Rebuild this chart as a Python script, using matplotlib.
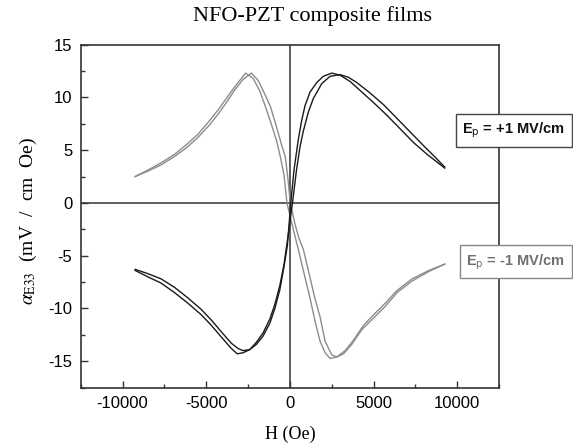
import matplotlib.pyplot as plt
from matplotlib.ticker import MultipleLocator

# Ep = +1 MV/cm (black), two field sweeps
blk_h1 = [-9250, -8500, -7700, -6900, -6100, -5300, -4700, -4000, -3500, -3100,
          -2800, -2400, -2000, -1600, -1200, -900, -600, -350, -150, 50,
          250, 500, 700, 900, 1200, 1600, 2000, 2500, 3000, 3600,
          4300, 5000, 5800, 6600, 7400, 8200, 9250]
blk_y1 = [-6.3, -6.7, -7.2, -8.0, -9.0, -10.1, -11.1, -12.4, -13.3, -13.8,
          -14.0, -13.9, -13.4, -12.6, -11.4, -10.0, -8.2, -6.0, -4.0, 0.0,
          3.2, 6.0, 7.8, 9.2, 10.5, 11.4, 12.0, 12.3, 12.1, 11.5,
          10.5, 9.5, 8.3, 7.0, 5.7, 4.6, 3.3]
blk_h2 = [-9250, -8500, -7700, -6900, -6100, -5300, -4700, -4000, -3500, -3150,
          -2800, -2400, -2000, -1600, -1200, -900, -600, -350, -100, 150,
          400, 600, 800, 1100, 1400, 1900, 2400, 3000, 3500, 4000,
          4800, 5600, 6400, 7200, 8000, 8700, 9250]
blk_y2 = [-6.4, -7.0, -7.6, -8.5, -9.5, -10.6, -11.6, -12.9, -13.8, -14.3,
          -14.2, -13.9, -13.2, -12.3, -11.0, -9.6, -7.8, -5.8, -3.0, 0.0,
          3.2, 5.3, 6.8, 8.6, 9.9, 11.3, 12.0, 12.15, 11.9, 11.4,
          10.4, 9.3, 8.0, 6.7, 5.4, 4.3, 3.4]

# Ep = -1 MV/cm (gray), two field sweeps
gry_h1 = [-9250, -8500, -7700, -6900, -6200, -5500, -4800, -4300, -3800, -3300,
          -2900, -2650, -2200, -1800, -1470, -1100, -800, -577, -350, -180,
          0, 200, 500, 800, 1000, 1210, 1500, 1800, 2100, 2400,
          2800, 3300, 3800, 4400, 5000, 5700, 6400, 7300, 8300, 9250]
gry_y1 = [2.5, 3.1, 3.8, 4.6, 5.5, 6.5, 7.8, 8.8, 9.9, 11.0,
          11.8, 12.3, 11.8, 10.6, 9.15, 7.4, 5.9, 4.4, 2.6, 0.0,
          -1.2, -2.5, -4.4, -6.4, -7.7, -9.1, -11.2, -13.1, -14.2, -14.75,
          -14.6, -14.0, -13.0, -11.6, -10.6, -9.5, -8.3, -7.2, -6.4, -5.8]
gry_h2 = [-9250, -8500, -7700, -6900, -6200, -5500, -4800, -4300, -3800, -3300,
          -2800, -2300, -1900, -1500, -1170, -800, -500, -280, -100, 20,
          300, 550, 800, 1100, 1500, 1800, 2100, 2500, 2800, 3200,
          3700, 4300, 5000, 5700, 6400, 7300, 8300, 9250]
gry_y2 = [2.5, 3.0, 3.6, 4.4, 5.2, 6.2, 7.4, 8.4, 9.5, 10.7,
          11.7, 12.3, 11.6, 10.3, 9.15, 7.2, 5.5, 4.4, 2.0, 0.0,
          -2.0, -3.4, -4.4, -6.4, -9.1, -10.8, -13.1, -14.4, -14.6, -14.3,
          -13.4, -12.0, -10.9, -9.8, -8.5, -7.4, -6.5, -5.8]

plt.rcParams['mathtext.fontset'] = 'stix'
plt.rcParams['axes.unicode_minus'] = False

fig = plt.figure(figsize=(5.73, 4.46), dpi=100)
ax = fig.add_axes([0.141, 0.131, 0.730, 0.769])

ax.axhline(0, color="#333333", lw=1.1, zorder=1)
ax.axvline(0, color="#333333", lw=1.1, zorder=1)

ax.plot(gry_h1, gry_y1, color="#8c8c8c", lw=1.0)
ax.plot(gry_h2, gry_y2, color="#8c8c8c", lw=1.0)
ax.plot(blk_h1, blk_y1, color="#1a1a1a", lw=1.0)
ax.plot(blk_h2, blk_y2, color="#1a1a1a", lw=1.0)

ax.set_xlim(-12500, 12500)
ax.set_ylim(-17.5, 15)
ax.xaxis.set_major_locator(MultipleLocator(5000))
ax.xaxis.set_minor_locator(MultipleLocator(2500))
ax.yaxis.set_major_locator(MultipleLocator(5))
ax.yaxis.set_minor_locator(MultipleLocator(2.5))
ax.tick_params(which="both", direction="in", color="#333333", width=1.0)
ax.tick_params(which="major", length=5, labelsize=12, pad=6)
ax.tick_params(which="minor", length=3)
for lab in ax.get_xticklabels() + ax.get_yticklabels():
    lab.set_family("Liberation Sans")
for s in ax.spines.values():
    s.set_linewidth(1.2)
    s.set_color("#333333")

ax.set_xlabel("H (Oe)", family="Liberation Serif", fontsize=13)
ax.xaxis.set_label_coords(0.5, -0.112)
ax.set_ylabel(r"$\alpha_{\rm E33}$  (mV  /  cm  Oe)", family="Liberation Serif",
              fontsize=14)
ax.yaxis.set_label_coords(-0.10, 0.485)
fig.text(0.545, 0.965, "NFO-PZT composite films", family="Liberation Serif",
         fontsize=16, ha="center", va="center")

box_kw = dict(transform=ax.transAxes, family="Liberation Sans", fontweight="bold",
              fontsize=10.5, ha="center", va="center", clip_on=False,
              math_fontfamily="dejavusans")
ax.text(1.035, 0.750, r"E$_{\rm p}$ = +1 MV/cm", color="#111111",
        bbox=dict(boxstyle="square,pad=0.45", fc="white", ec="#444444", lw=1.0),
        **box_kw)
ax.text(1.040, 0.367, r"E$_{\rm p}$ = -1 MV/cm", color="#707070",
        bbox=dict(boxstyle="square,pad=0.45", fc="white", ec="#888888", lw=1.0),
        **box_kw)

fig.savefig("out.png", dpi=100)
